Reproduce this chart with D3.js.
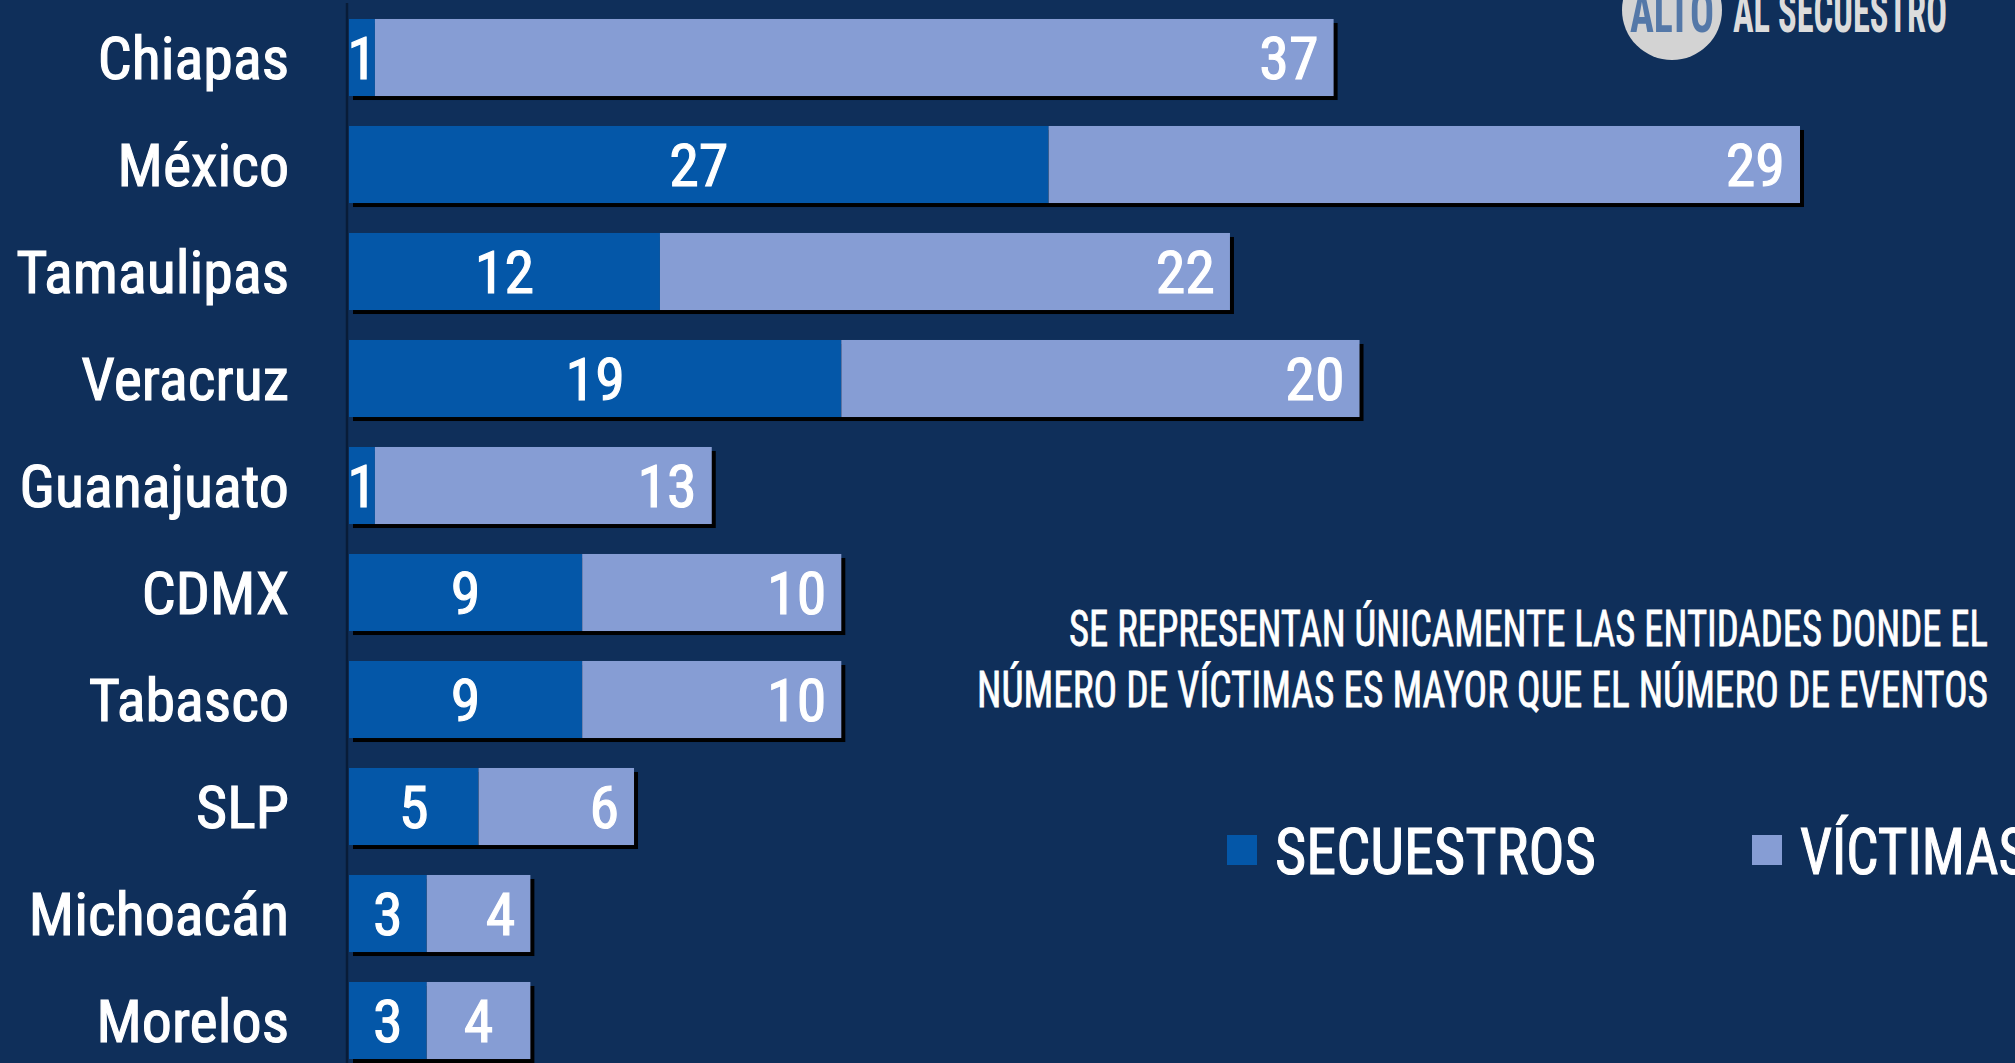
<!DOCTYPE html>
<html>
<head>
<meta charset="utf-8">
<script src="https://cdn.jsdelivr.net/npm/d3@7"></script>
<style>
  html, body { margin: 0; padding: 0; background: #0f2f5a; overflow: hidden; }
  svg { display: block; }
</style>
</head>
<body>
<svg id="chart"></svg>
<script>
var width = 2015,
    height = 1063

// datos
var estados = ["Chiapas", "México", "Tamaulipas", "Veracruz", "Guanajuato", "CDMX", "Tabasco", "SLP", "Michoacán", "Morelos"]
var secuestros = [1, 27, 12, 19, 1, 9, 9, 5, 3, 3]
var victimas = [37, 29, 22, 20, 13, 10, 10, 6, 4, 4]
var etiquetaVictimas = ["end", "end", "end", "end", "end", "end", "end", "end", "end", "middle"]
var leyenda = ["SECUESTROS", "VÍCTIMAS"]
var nota = ["SE REPRESENTAN ÚNICAMENTE LAS ENTIDADES DONDE EL", "NÚMERO DE VÍCTIMAS ES MAYOR QUE EL NÚMERO DE EVENTOS"]

var colSec = "#0457a8",
    colVic = "#869dd4",
    narrow = "'Liberation Sans Narrow', 'Arial Narrow', 'Roboto Condensed', sans-serif"

var svg = d3.select("#chart")
    .attr("width", width)
    .attr("height", height)

svg.append("rect")
    .attr("width", width)
    .attr("height", height)
    .attr("fill", "#0f2f5a")

var datos = estados.map(function (d, i) {
    return { estado: d, sec: secuestros[i], vic: victimas[i], pos: etiquetaVictimas[i] }
})

var x = d3.scaleLinear()
    .domain([0, 56])
    .range([349, 1800])

var y = d3.scaleBand()
    .domain(estados)
    .range([4, 1074])
    .paddingInner(0.28)
    .paddingOuter(0.14)

var fs = 60

// sombras
svg.append("g")
    .selectAll("rect")
    .data(datos)
    .enter().append("rect")
    .attr("x", function (d) { return x(0) + 4 })
    .attr("y", function (d) { return y(d.estado) + 4 })
    .attr("width", function (d) { return x(d.sec + d.vic) - x(0) })
    .attr("height", y.bandwidth())
    .attr("fill", "#000")

// barras secuestros
svg.append("g")
    .selectAll("rect")
    .data(datos)
    .enter().append("rect")
    .attr("x", x(0))
    .attr("y", function (d) { return y(d.estado) })
    .attr("width", function (d) { return x(d.sec) - x(0) })
    .attr("height", y.bandwidth())
    .attr("fill", colSec)

// barras victimas
svg.append("g")
    .selectAll("rect")
    .data(datos)
    .enter().append("rect")
    .attr("x", function (d) { return x(d.sec) })
    .attr("y", function (d) { return y(d.estado) })
    .attr("width", function (d) { return x(d.sec + d.vic) - x(d.sec) })
    .attr("height", y.bandwidth())
    .attr("fill", colVic)

// eje
svg.append("line")
    .attr("x1", 347).attr("x2", 347)
    .attr("y1", 3).attr("y2", height)
    .attr("stroke", "#081c38")
    .attr("stroke-width", 2.5)

// texto blanco un poco mas grueso
function blanco(sel) {
    sel.attr("font-family", narrow)
        .attr("fill", "#fff")
        .attr("stroke", "#fff")
        .attr("stroke-width", 1.1)
}

// etiquetas de estados
svg.append("g")
    .selectAll("text")
    .data(datos)
    .enter().append("text")
    .attr("x", 289)
    .attr("y", function (d) { return y(d.estado) + y.bandwidth() / 2 + fs * 0.36 })
    .attr("text-anchor", "end")
    .attr("font-size", fs)
    .call(blanco)
    .text(function (d) { return d.estado })

// valores secuestros
svg.append("g")
    .selectAll("text")
    .data(datos)
    .enter().append("text")
    .attr("x", function (d) { return (x(0) + x(d.sec)) / 2 })
    .attr("y", function (d) { return y(d.estado) + y.bandwidth() / 2 + fs * 0.36 })
    .attr("text-anchor", "middle")
    .attr("font-size", fs)
    .call(blanco)
    .text(function (d) { return d.sec })

// valores victimas
svg.append("g")
    .selectAll("text")
    .data(datos)
    .enter().append("text")
    .attr("x", function (d) {
        if (d.pos == "middle") return (x(d.sec) + x(d.sec + d.vic)) / 2
        return x(d.sec + d.vic) - 15
    })
    .attr("y", function (d) { return y(d.estado) + y.bandwidth() / 2 + fs * 0.36 })
    .attr("text-anchor", function (d) { return d.pos })
    .attr("font-size", fs)
    .call(blanco)
    .text(function (d) { return d.vic })

// nota
svg.append("g")
    .selectAll("text")
    .data(nota)
    .enter().append("text")
    .attr("x", 1988)
    .attr("y", function (d, i) { return 646 + i * 61 })
    .attr("text-anchor", "end")
    .attr("font-size", 50)
    .call(blanco)
    .attr("stroke-width", 0.8)
    .attr("textLength", function (d, i) { return i == 0 ? 919 : 1011 })
    .attr("lengthAdjust", "spacingAndGlyphs")
    .text(function (d) { return d })

// leyenda
var leg = svg.append("g")
var legX = [1227, 1752],
    legTL = [321, 228]
leyenda.forEach(function (t, i) {
    leg.append("rect")
        .attr("x", legX[i])
        .attr("y", 835)
        .attr("width", 30)
        .attr("height", 30)
        .attr("fill", i == 0 ? colSec : colVic)
    leg.append("text")
        .attr("x", legX[i] + 48)
        .attr("y", 874)
        .attr("font-size", 65)
        .call(blanco)
        .attr("textLength", legTL[i])
        .attr("lengthAdjust", "spacingAndGlyphs")
        .text(t)
})

// logo
var logo = svg.append("g")
logo.append("circle")
    .attr("cx", 1672)
    .attr("cy", 10)
    .attr("r", 50)
    .attr("fill", "#d3d3d3")
logo.append("text")
    .attr("x", 1630)
    .attr("y", 32)
    .attr("font-family", narrow)
    .attr("font-weight", "bold")
    .attr("font-size", 58)
    .attr("fill", "#5478a8")
    .attr("textLength", 84)
    .attr("lengthAdjust", "spacingAndGlyphs")
    .text("ALTO")
logo.append("text")
    .attr("x", 1733)
    .attr("y", 32)
    .attr("font-family", narrow)
    .attr("font-weight", "bold")
    .attr("font-size", 58)
    .attr("fill", "#dcdcdc")
    .attr("textLength", 214)
    .attr("lengthAdjust", "spacingAndGlyphs")
    .text("AL SECUESTRO")
</script>
</body>
</html>
